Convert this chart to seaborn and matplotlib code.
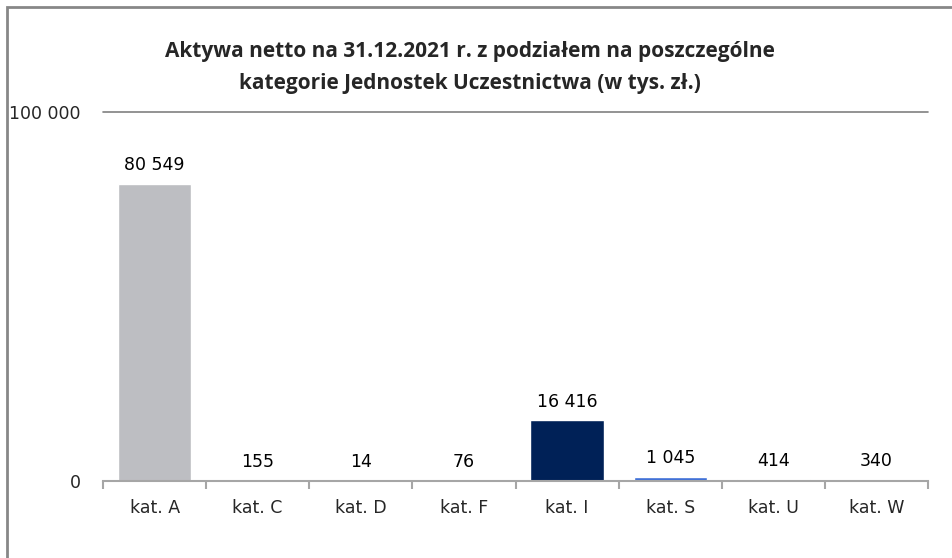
import matplotlib
matplotlib.use('Agg')
import matplotlib.pyplot as plt
import seaborn as sns
import pandas as pd
import numpy as np
from matplotlib.patches import Rectangle

categories = ['kat. A', 'kat. C', 'kat. D', 'kat. F', 'kat. I', 'kat. S', 'kat. U', 'kat. W']
values = [80549, 155, 14, 76, 16416, 1045, 414, 340]
labels = ['80 549', '155', '14', '76', '16 416', '1 045', '414', '340']
colors = ['#BDBEC2', '#7F7F7F', '#A5A5A5', '#5B9BD5', '#002157', '#3E6FD8', '#8FAADC', '#264478']

sns.set_style('white')
plt.rcParams['font.family'] = ['DejaVu Sans']

df = pd.DataFrame({'kat': categories, 'val': values})

fig = plt.figure(figsize=(9.52, 5.58), dpi=100)
ax = fig.add_axes([103/952, 1-481/558, (928-103)/952, (481-112)/558])

sns.barplot(data=df, x='kat', y='val', hue='kat', palette=colors, legend=False,
            width=0.71, saturation=1, ax=ax)

for i, (v, t) in enumerate(zip(values, labels)):
    ax.annotate(t, (i, v), xytext=(0, 7), textcoords='offset points',
                ha='center', va='bottom', fontsize=12.5, color='#000000')

ax.set_xlim(-0.5, len(categories) - 0.5)
ax.set_ylim(0, 100000)
ax.set_yticks([0, 100000])
ax.set_yticklabels(['0', '100 000'], fontsize=12.5)
ax.tick_params(axis='y', length=0, pad=16)
ax.set_xticks(np.arange(len(categories)))
ax.set_xticklabels(categories, fontsize=12.5)
ax.set_xticks(np.arange(len(categories) + 1) - 0.5, minor=True)
ax.tick_params(axis='x', which='major', bottom=True, length=0, pad=13)
ax.tick_params(axis='x', which='minor', bottom=True, length=6, width=1.5,
               color='#A6A6A6', direction='out')
ax.set_xlabel('')
ax.set_ylabel('')

for s in ['top', 'right', 'left']:
    ax.spines[s].set_visible(False)
ax.spines['bottom'].set_color('#A6A6A6')
ax.spines['bottom'].set_linewidth(1.5)
ax.axhline(100000, color='#808080', lw=1.2, clip_on=False)

fig.text(0.494, 1-51/558, 'Aktywa netto na 31.12.2021 r. z podziałem na poszczególne',
         ha='center', va='center', fontsize=15, fontweight='bold', family='Open Sans')
fig.text(0.494, 1-83/558, 'kategorie Jednostek Uczestnictwa (w tys. zł.)',
         ha='center', va='center', fontsize=15, fontweight='bold', family='Open Sans')

fig.patches.append(Rectangle((7/952, -0.1), 1.2, 1 - 7/558 + 0.1, transform=fig.transFigure,
                             fill=False, edgecolor='#878787', lw=2))

fig.savefig('out.png', dpi=100)
